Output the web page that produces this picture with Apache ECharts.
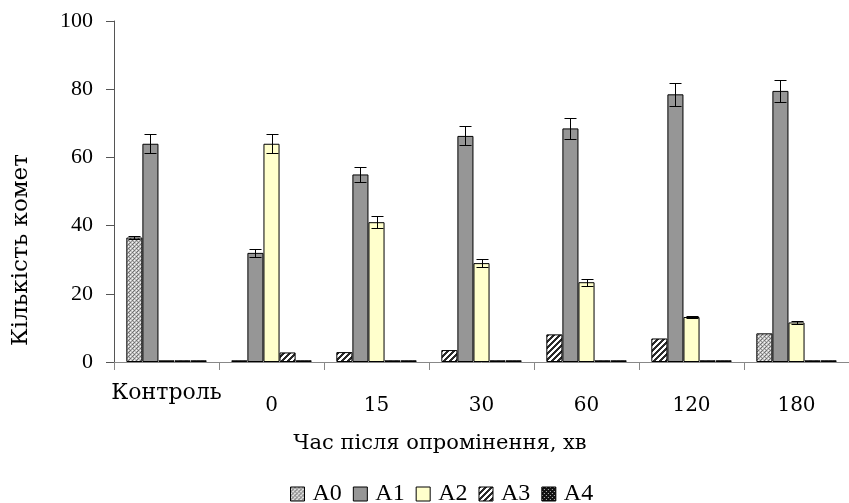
<!DOCTYPE html>
<html>
<head>
<meta charset="utf-8">
<script src="https://cdn.jsdelivr.net/npm/echarts@6/dist/echarts.min.js"></script>
<style>html,body{margin:0;padding:0;background:#fff;}#c{width:849px;height:503px;}</style>
</head>
<body>
<div id="c"></div>
<script>
const categories = ['Контроль', '0', '15', '30', '60', '120', '180'];
const seriesNames = ['A0', 'A1', 'A2', 'A3', 'A4'];
const A0 = [36.5, 0.5, 2.9, 3.5, 8.1, 6.9, 8.4];
const A1 = [64, 32, 55, 66.3, 68.5, 78.5, 79.5];
const A2 = [0.5, 64, 41, 29, 23.4, 13.2, 11.6];
const A3 = [0.5, 2.8, 0.5, 0.5, 0.5, 0.5, 0.5];
const A4 = [0.5, 0.5, 0.5, 0.5, 0.5, 0.5, 0.5];
const errA0 = [0.5, 0, 0, 0, 0, 0, 0];
const errA1 = [2.8, 1.2, 2.2, 2.8, 3, 3.3, 3.3];
const errA2 = [0, 2.8, 1.7, 1.2, 1, 0.4, 0.5];
const yTicks = [0, 20, 40, 60, 80, 100];
const xTitle = 'Час після опромінення, хв';
const yTitle = 'Кількість комет';

// pattern assignment for A0 bars (style, not data)
const a0Pattern = ['dots', 'dots', 'hatch', 'hatch', 'hatch', 'hatch', 'dots'];

function makePattern(kind) {
  const cv = document.createElement('canvas');
  const ctx = cv.getContext('2d');
  if (kind === 'dots') {
    cv.width = 4; cv.height = 4;
    ctx.fillStyle = '#c2c2c2'; ctx.fillRect(0, 0, 4, 4);
    ctx.fillStyle = '#6e6e6e';
    ctx.fillRect(0, 0, 1, 1); ctx.fillRect(2, 2, 1, 1); ctx.fillRect(1, 3, 1, 1);
    ctx.fillStyle = '#f4f4f4';
    ctx.fillRect(2, 0, 1, 1); ctx.fillRect(0, 2, 1, 1);
    ctx.fillStyle = '#969696';
    ctx.fillRect(3, 1, 1, 1); ctx.fillRect(1, 1, 1, 1);
  } else if (kind === 'hatch') {
    cv.width = 6; cv.height = 6;
    ctx.fillStyle = '#ffffff'; ctx.fillRect(0, 0, 6, 6);
    ctx.fillStyle = '#2a2a2a';
    for (let i = 0; i < 6; i++) {
      ctx.fillRect((5 - i + 6) % 6, i, 1, 1);
      ctx.fillRect((6 - i + 6) % 6, i, 1, 1);
      ctx.fillRect((7 - i + 6) % 6, i, 1, 1);
    }
  } else if (kind === 'dark') {
    cv.width = 4; cv.height = 4;
    ctx.fillStyle = '#111111'; ctx.fillRect(0, 0, 4, 4);
    ctx.fillStyle = '#bbbbbb';
    ctx.fillRect(0, 0, 1, 1); ctx.fillRect(2, 2, 1, 1);
  }
  return { image: cv, repeat: 'repeat' };
}
const pats = { dots: makePattern('dots'), hatch: makePattern('hatch'), dark: makePattern('dark') };

const values = [A0, A1, A2, A3, A4];
const fills = [pats.dots, '#969696', '#ffffcc', pats.hatch, pats.dark];
const errs = [errA0, errA1, errA2];
const catGap = 0.235;

const barSeries = seriesNames.map((name, s) => ({
  name: name,
  type: 'bar',
  barGap: '0%',
  barCategoryGap: (catGap * 100) + '%',
  itemStyle: { color: fills[s], borderColor: '#000', borderWidth: 1 },
  data: values[s].map((v, i) => {
    if (s === 0) return { value: v, itemStyle: { color: pats[a0Pattern[i]] } };
    return v;
  }),
  emphasis: { disabled: true }
}));

const errData = [];
errs.forEach((arr, s) => arr.forEach((e, i) => { if (e > 0) errData.push([i, values[s][i], e, s]); }));

const errSeries = {
  type: 'custom',
  silent: true,
  data: errData,
  encode: { x: 0, y: 1 },
  z: 5,
  renderItem: function (params, api) {
    const cat = api.value(0), v = api.value(1), e = api.value(2), s = api.value(3);
    const p = api.coord([cat, v]);
    const catW = api.size([1, 0])[0];
    const groupW = catW * (1 - catGap);
    const bw = groupW / seriesNames.length;
    const x = Math.round(p[0] - groupW / 2 + bw * (s + 0.5)) + 0.5;
    const yt = Math.round(api.coord([cat, v + e])[1]) + 0.5;
    const yb = Math.round(api.coord([cat, v - e])[1]) + 0.5;
    const hw = 6;
    const st = { stroke: '#000', lineWidth: 1 };
    return {
      type: 'group',
      children: [
        { type: 'line', shape: { x1: x, y1: yt, x2: x, y2: yb }, style: st },
        { type: 'line', shape: { x1: x - hw, y1: yt, x2: x + hw, y2: yt }, style: st },
        { type: 'line', shape: { x1: x - hw, y1: yb, x2: x + hw, y2: yb }, style: st }
      ]
    };
  }
};

const chart = echarts.init(document.getElementById('c'), null, { renderer: 'canvas' });
chart.setOption({
  animation: false,
  backgroundColor: '#fff',
  grid: { left: 114, right: -5, top: 21, bottom: 141, containLabel: false },
  legend: {
    top: 477,
    left: 285,
    data: seriesNames,
    itemWidth: 14, itemHeight: 14, itemGap: 11,
    icon: 'rect',
    itemStyle: { borderColor: '#000', borderWidth: 1 },
    textStyle: { fontFamily: 'Liberation Serif', fontSize: 24, color: '#000', padding: [0, 0, 0, 3] }
  },
  xAxis: {
    type: 'category',
    data: categories,
    axisLine: { lineStyle: { color: '#888', width: 1 } },
    axisTick: { show: true, length: 8, lineStyle: { color: '#888' } },
    axisLabel: {
      margin: 20,
      color: '#000',
      formatter: function (v) { return v === categories[0] ? '{c|' + v + '}' : '{n|' + v + '}'; },
      rich: {
        c: { fontFamily: 'DejaVu Serif', fontSize: 22, color: '#000' },
        n: { fontFamily: 'DejaVu Serif', fontSize: 20, color: '#000', padding: [14, 0, 0, 0] }
      }
    },
    splitLine: { show: false }
  },
  yAxis: {
    type: 'value',
    min: 0, max: 100, interval: 20,
    axisLine: { show: true, lineStyle: { color: '#555', width: 1 } },
    axisTick: { show: true, length: 8, lineStyle: { color: '#555' } },
    axisLabel: {
      margin: 21, color: '#000', fontFamily: 'Liberation Serif', fontSize: 22,
      formatter: function (v) { return yTicks.indexOf(v) >= 0 ? String(v) : ''; }
    },
    splitLine: { show: false }
  },
  graphic: [{
    type: 'text',
    x: 21, y: 250,
    rotation: Math.PI / 2,
    style: { text: yTitle, fontFamily: 'DejaVu Serif', fontSize: 23, fill: '#000', align: 'center', verticalAlign: 'middle' }
  }, {
    type: 'text',
    x: 440, y: 444,
    style: { text: xTitle, fontFamily: 'DejaVu Serif', fontSize: 21, fill: '#000', align: 'center', verticalAlign: 'middle' }
  }],
  series: barSeries.concat([errSeries])
});
</script>
</body>
</html>
